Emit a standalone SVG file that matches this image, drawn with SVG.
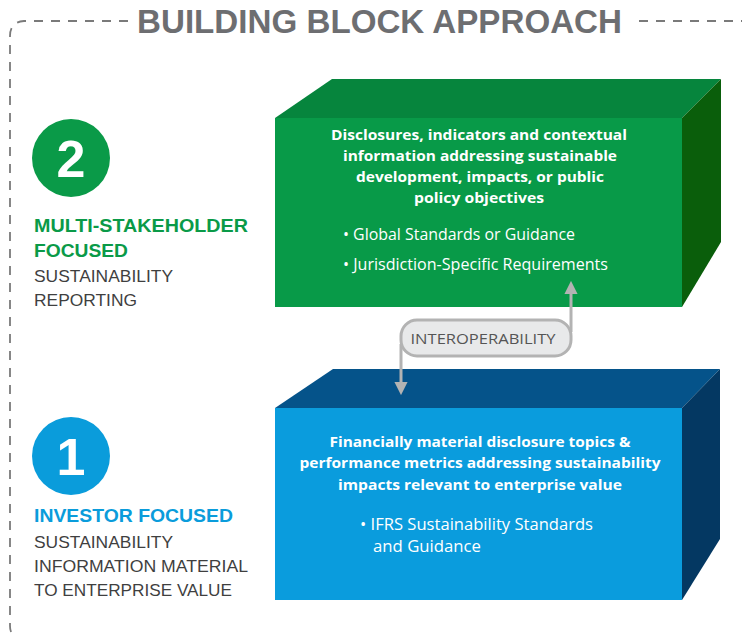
<svg xmlns="http://www.w3.org/2000/svg" width="743" height="642" viewBox="0 0 743 642">
<style>
.title{font-family:"Liberation Sans",Arial,sans-serif;font-weight:bold;font-size:34px;fill:#6D6E71}
.num{font-family:"Liberation Sans",Arial,sans-serif;font-weight:bold;font-size:52px;fill:#fff;text-anchor:middle}
.lbl{font-family:"Liberation Sans",Arial,sans-serif;font-weight:bold;font-size:19px}
.sub{font-family:"Liberation Sans",Arial,sans-serif;font-size:16.5px;fill:#3F3F3F}
.bw{font-family:"Open Sans","Noto Sans",sans-serif;font-weight:bold;font-size:15px;fill:#fff;text-anchor:middle}
.bl{font-family:"Open Sans","Noto Sans",sans-serif;font-size:15.5px;fill:#fff}
.io{font-family:"Open Sans","Noto Sans",sans-serif;font-size:14px;fill:#555}
.dash{fill:none;stroke:#7A7A7A;stroke-width:1.8;stroke-dasharray:9 8}
.conn{stroke:#B3B3B3;stroke-width:3;fill:none}
</style>
<defs>
<marker id="ah" viewBox="0 0 10 10" refX="4" refY="5" markerWidth="4.5" markerHeight="4.5" orient="auto-start-reverse" markerUnits="strokeWidth">
<path d="M0 0 L10 5 L0 10 Z" fill="#B3B3B3"/>
</marker>
</defs>
<rect width="743" height="642" fill="#fff"/>
<g id="frame">
<path class="dash" d="M128 21 L24 21 Q10 22 10 36 L10 626 Q10 634 16 638"/>
<path class="dash" d="M639 21 L742 21"/>
<text class="title" x="137" y="33" textLength="485" lengthAdjust="spacingAndGlyphs">BUILDING BLOCK APPROACH</text>
</g>
<g id="level2">
<circle cx="71" cy="158" r="39" fill="#0A9A48"/>
<text class="num" x="71" y="177">2</text>
<text class="lbl" fill="#0A9A48" x="34" y="232" textLength="214" lengthAdjust="spacingAndGlyphs">MULTI-STAKEHOLDER</text>
<text class="lbl" fill="#0A9A48" x="34" y="257" textLength="94" lengthAdjust="spacingAndGlyphs">FOCUSED</text>
<text class="sub" x="34" y="282" textLength="139" lengthAdjust="spacingAndGlyphs">SUSTAINABILITY</text>
<text class="sub" x="34" y="306" textLength="103" lengthAdjust="spacingAndGlyphs">REPORTING</text>
</g>
<g id="level1">
<circle cx="71" cy="456" r="39" fill="#0A9CDB"/>
<text class="num" x="71" y="475">1</text>
<text class="lbl" fill="#0A9CDB" x="34" y="522" textLength="199" lengthAdjust="spacingAndGlyphs">INVESTOR FOCUSED</text>
<text class="sub" x="34" y="548" textLength="139" lengthAdjust="spacingAndGlyphs">SUSTAINABILITY</text>
<text class="sub" x="34" y="572" textLength="214" lengthAdjust="spacingAndGlyphs">INFORMATION MATERIAL</text>
<text class="sub" x="34" y="596" textLength="198" lengthAdjust="spacingAndGlyphs">TO ENTERPRISE VALUE</text>
</g>
<g id="green-block">
<polygon points="275,118 332,79 721,79 682,118" fill="#06853D"/>
<polygon points="682,118 721,79 721,242 682,307" fill="#0A5E0B"/>
<rect x="275" y="118" width="407" height="189" fill="#089A48"/>
<text class="bw" x="479" y="140" textLength="296" lengthAdjust="spacingAndGlyphs">Disclosures, indicators and contextual</text>
<text class="bw" x="480" y="161" textLength="274" lengthAdjust="spacingAndGlyphs">information addressing sustainable</text>
<text class="bw" x="480" y="182" textLength="248" lengthAdjust="spacingAndGlyphs">development, impacts, or public</text>
<text class="bw" x="479" y="203" textLength="130" lengthAdjust="spacingAndGlyphs">policy objectives</text>
<text class="bl" x="343" y="240" textLength="232" lengthAdjust="spacingAndGlyphs">• Global Standards or Guidance</text>
<text class="bl" x="343" y="270" textLength="265" lengthAdjust="spacingAndGlyphs">• Jurisdiction-Specific Requirements</text>
</g>
<g id="blue-block">
<polygon points="275,408 333,369 720,369 682,408" fill="#05538A"/>
<polygon points="682,408 720,369 720,539 682,600" fill="#043862"/>
<rect x="275" y="408" width="407" height="192" fill="#0A9CDD"/>
<text class="bw" x="480" y="447" textLength="301" lengthAdjust="spacingAndGlyphs">Financially material disclosure topics &amp;</text>
<text class="bw" x="480" y="468" textLength="361" lengthAdjust="spacingAndGlyphs">performance metrics addressing sustainability</text>
<text class="bw" x="480" y="490" textLength="284" lengthAdjust="spacingAndGlyphs">impacts relevant to enterprise value</text>
<text class="bl" x="360" y="530" textLength="233" lengthAdjust="spacingAndGlyphs">• IFRS Sustainability Standards</text>
<text class="bl" x="373" y="552" textLength="108" lengthAdjust="spacingAndGlyphs">and Guidance</text>
</g>
<g id="connectors">
<line class="conn" x1="571" y1="332" x2="571" y2="289" marker-end="url(#ah)"/>
<line class="conn" x1="401" y1="344" x2="401" y2="387" marker-end="url(#ah)"/>
<rect x="401" y="320" width="170" height="36" rx="16" fill="#E8E9EA" stroke="#B3B3B3" stroke-width="3"/>
<text class="io" x="483" y="344" text-anchor="middle" textLength="145" lengthAdjust="spacingAndGlyphs">INTEROPERABILITY</text>
</g>
</svg>
